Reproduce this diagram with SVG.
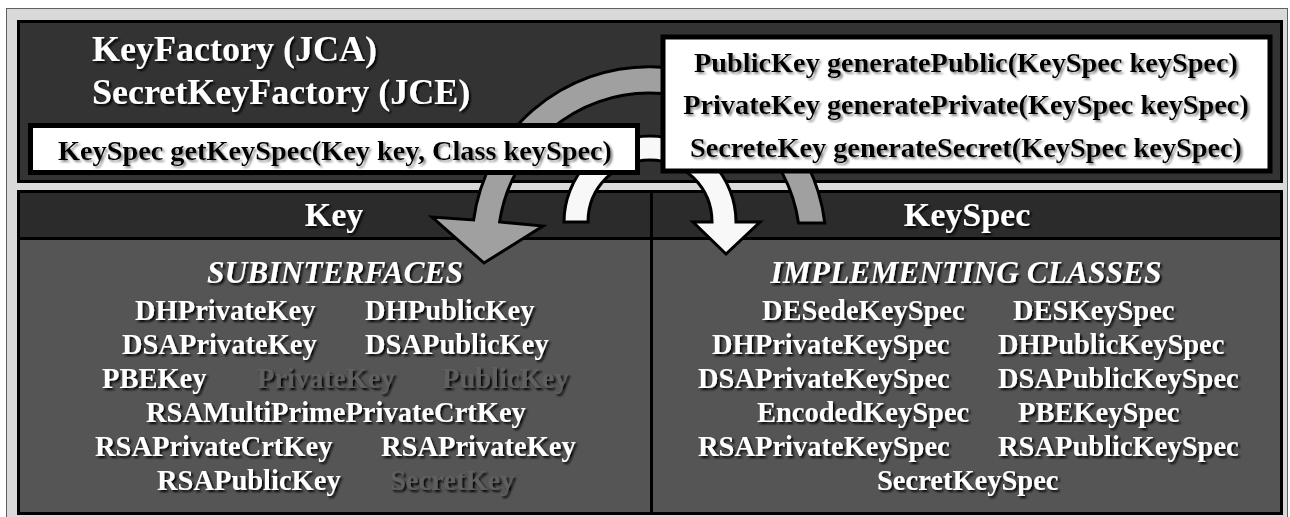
<svg xmlns="http://www.w3.org/2000/svg" width="1290" height="517" viewBox="0 0 1290 517">
<defs>
<filter id="sh" x="-5%" y="-20%" width="110%" height="150%">
<feDropShadow dx="2" dy="2" stdDeviation="0.8" flood-color="#000" flood-opacity="0.95"/>
</filter>
<filter id="shg" x="-5%" y="-20%" width="110%" height="150%">
<feDropShadow dx="2" dy="2" stdDeviation="0.8" flood-color="#8a8a8a" flood-opacity="1"/>
</filter>
</defs>
<style>
text{font-family:"Liberation Serif","Times New Roman",serif;font-weight:bold;}
.w{fill:#fff;filter:url(#sh);}
.dim{fill:#5e5e5e;filter:url(#sh);}
.b{fill:#000;filter:url(#shg);font-size:28.3px;text-anchor:middle;}
.title{font-size:36px;}
.hdr{font-size:34px;text-anchor:middle;}
.sub{font-size:31.5px;font-style:italic;text-anchor:middle;}
.item{font-size:28.5px;}
.panel{fill:#333;stroke:#000;stroke-width:3;}
.head{fill:#2b2b2b;stroke:#000;stroke-width:3;}
.body{fill:#555;stroke:#000;stroke-width:3;}
.box{fill:#fff;stroke:#000;stroke-width:5;}
.arr{stroke:#000;stroke-width:3;stroke-linejoin:miter;}
</style>
<rect x="6.5" y="8.5" width="1281" height="512" fill="#d9d9d9" stroke="#606060" stroke-width="1"/>

<g id="factory">
<rect class="panel" x="18.5" y="21.5" width="1263" height="160"/>
<text class="w title" x="92" y="61">KeyFactory (JCA)</text>
<text class="w title" x="92" y="104">SecretKeyFactory (JCE)</text>
</g>

<g id="key">
<rect class="head" x="18.5" y="191.5" width="633" height="47"/>
<rect class="body" x="18.5" y="238.5" width="633" height="275"/>
<text class="w hdr" x="334" y="226">Key</text>
<text class="w sub" x="335" y="283">SUBINTERFACES</text>
<g class="item">
<text class="w" x="135" y="320">DHPrivateKey</text>
<text class="w" x="365" y="320">DHPublicKey</text>
<text class="w" x="122" y="354">DSAPrivateKey</text>
<text class="w" x="365" y="354">DSAPublicKey</text>
<text class="w" x="102" y="388">PBEKey</text>
<text class="dim" x="257" y="388">PrivateKey</text>
<text class="dim" x="442" y="388">PublicKey</text>
<text class="w" x="146" y="422">RSAMultiPrimePrivateCrtKey</text>
<text class="w" x="95" y="456">RSAPrivateCrtKey</text>
<text class="w" x="381" y="456">RSAPrivateKey</text>
<text class="w" x="157" y="490">RSAPublicKey</text>
<text class="dim" x="390" y="490">SecretKey</text>
</g>
</g>

<g id="keyspec">
<rect class="head" x="651.5" y="191.5" width="630" height="47"/>
<rect class="body" x="651.5" y="238.5" width="630" height="275"/>
<text class="w hdr" x="967" y="226">KeySpec</text>
<text class="w sub" x="966" y="283">IMPLEMENTING CLASSES</text>
<g class="item">
<text class="w" x="762" y="320">DESedeKeySpec</text>
<text class="w" x="1013" y="320">DESKeySpec</text>
<text class="w" x="712" y="354">DHPrivateKeySpec</text>
<text class="w" x="998" y="354">DHPublicKeySpec</text>
<text class="w" x="698" y="388">DSAPrivateKeySpec</text>
<text class="w" x="998" y="388">DSAPublicKeySpec</text>
<text class="w" x="757" y="422">EncodedKeySpec</text>
<text class="w" x="1018" y="422">PBEKeySpec</text>
<text class="w" x="698" y="456">RSAPrivateKeySpec</text>
<text class="w" x="998" y="456">RSAPublicKeySpec</text>
<text class="w" x="877" y="490">SecretKeySpec</text>
</g>
</g>

<g id="connectors">
<path class="arr" fill="#a0a0a0" d="M824.8,223 A177,177 0 0 0 473.6,220 L432,217 L484,263 L543,226 L499.6,222 A151,151 0 0 1 798.5,223 Z"/>
<path class="arr" fill="#f8f8f8" d="M564,222 A86,86 0 0 1 736,222 L760,222 L726,254 L693,222 L712,222 A62,62 0 0 0 588,222 Z"/>
</g>

<g id="getKeySpec">
<rect class="box" x="30.5" y="125.5" width="607" height="47"/>
<text class="b" x="335" y="160">KeySpec getKeySpec(Key key, Class keySpec)</text>
</g>

<g id="generate">
<rect class="box" x="663" y="37" width="607" height="134"/>
<text class="b" x="966" y="72">PublicKey generatePublic(KeySpec keySpec)</text>
<text class="b" x="966" y="114">PrivateKey generatePrivate(KeySpec keySpec)</text>
<text class="b" x="966" y="157">SecreteKey generateSecret(KeySpec keySpec)</text>
</g>
</svg>
